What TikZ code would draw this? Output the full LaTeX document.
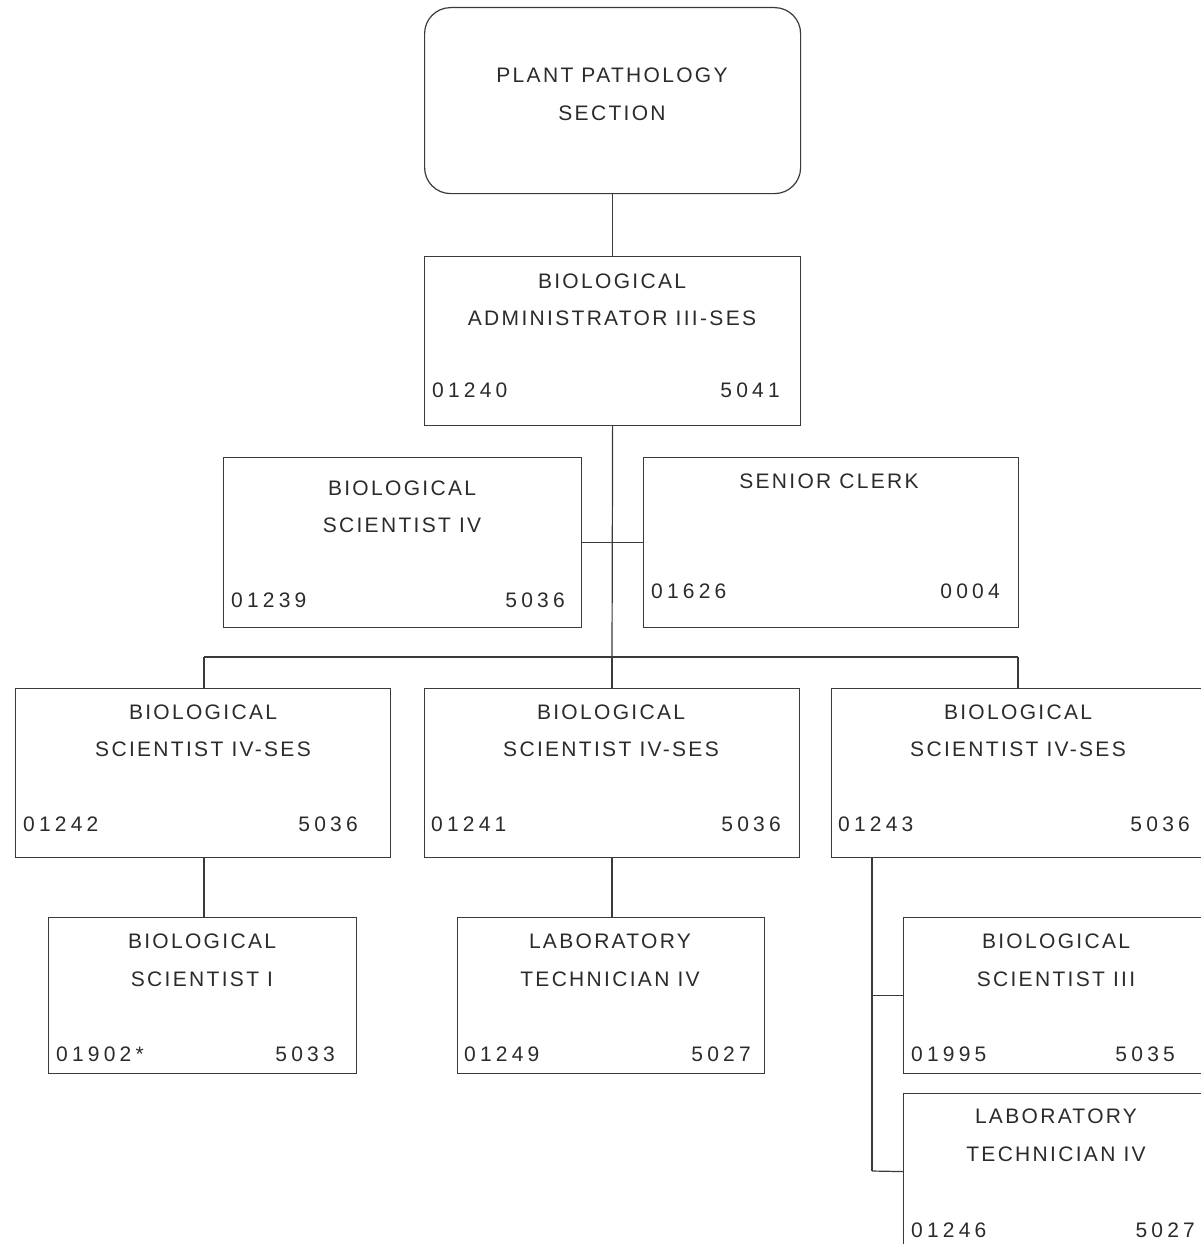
\documentclass[tikz,border=0pt]{standalone}
\usepackage{fontspec}
\setmainfont{Liberation Sans}[LetterSpace=11]
\newfontfamily\posnumfont{Liberation Sans}[LetterSpace=20]
\usetikzlibrary{calc}
\definecolor{ink}{HTML}{2B2B2B}
\definecolor{rule}{HTML}{3A3A3A}
\begin{document}
\begin{tikzpicture}[x=1pt,y=-1pt,
  posbox/.style={draw=rule, line width=1.2pt, rectangle, inner sep=0pt, anchor=north west},
  ttl/.style={inner sep=0pt, anchor=base, text=ink, font=\fontsize{21}{25}\selectfont},
  numl/.style={inner sep=0pt, anchor=base west, text=ink, font=\posnumfont\fontsize{21}{25}\selectfont},
  numr/.style={inner sep=0pt, anchor=base east, text=ink, font=\posnumfont\fontsize{21}{25}\selectfont},
  link/.style={draw=rule, line width=1.2pt}]
\useasboundingbox (0,0) rectangle (1201,1244);

% ---- boxes ----
\node[posbox, rounded corners=26pt, minimum width=376pt, minimum height=186pt] (top) at (424,7) {};
\node[posbox, minimum width=376pt, minimum height=169pt] (admin) at (424,256) {};
\node[posbox, minimum width=358pt, minimum height=170pt] (sci4) at (223,457) {};
\node[posbox, minimum width=375pt, minimum height=170pt] (clerk) at (643,457) {};
\node[posbox, minimum width=375pt, minimum height=169pt] (rowL) at (15,688) {};
\node[posbox, minimum width=375pt, minimum height=169pt] (rowM) at (424,688) {};
\node[posbox, minimum width=374pt, minimum height=169pt] (rowR) at (831,688) {};
\node[posbox, minimum width=308pt, minimum height=156pt] (botL) at (48,917) {};
\node[posbox, minimum width=307pt, minimum height=156pt] (botM) at (457,917) {};
\node[posbox, minimum width=306pt, minimum height=156pt] (botR1) at (903,917) {};
\node[posbox, minimum width=306pt, minimum height=156pt] (botR2) at (903,1093) {};

% ---- texts ----
\node[ttl] (topA) at (612,83) {PLANT PATHOLOGY};
\node[ttl] (topB) at (612,121) {SECTION};

\node[ttl] (adminA) at (612,288) {BIOLOGICAL};
\node[ttl] (adminB) at (612,325) {ADMINISTRATOR III-SES};
\node[numl] (adminN) at (432,397) {01240};
\node[numr] (adminC) at (780,397) {5041};

\node[ttl] (sci4A) at (402,495) {BIOLOGICAL};
\node[ttl] (sci4B) at (402,532) {SCIENTIST IV};
\node[numl] (sci4N) at (231,607) {01239};
\node[numr] (sci4C) at (565,607) {5036};

\node[ttl] (clerkA) at (829,488) {SENIOR CLERK};
\node[numl] (clerkN) at (651,598) {01626};
\node[numr] (clerkC) at (1000,598) {0004};

\node[ttl] (rowLA) at (203,719) {BIOLOGICAL};
\node[ttl] (rowLB) at (203,756) {SCIENTIST IV-SES};
\node[numl] (rowLN) at (23,831) {01242};
\node[numr] (rowLC) at (358,831) {5036};

\node[ttl] (rowMA) at (611,719) {BIOLOGICAL};
\node[ttl] (rowMB) at (611,756) {SCIENTIST IV-SES};
\node[numl] (rowMN) at (431,831) {01241};
\node[numr] (rowMC) at (781,831) {5036};

\node[ttl] (rowRA) at (1018,719) {BIOLOGICAL};
\node[ttl] (rowRB) at (1018,756) {SCIENTIST IV-SES};
\node[numl] (rowRN) at (838,831) {01243};
\node[numr] (rowRC) at (1190,831) {5036};

\node[ttl] (botLA) at (202,948) {BIOLOGICAL};
\node[ttl] (botLB) at (202,986) {SCIENTIST I};
\node[numl] (botLN) at (56,1061) {01902*};
\node[numr] (botLC) at (335,1061) {5033};

\node[ttl] (botMA) at (610,948) {LABORATORY};
\node[ttl] (botMB) at (610,986) {TECHNICIAN IV};
\node[numl] (botMN) at (464,1061) {01249};
\node[numr] (botMC) at (751,1061) {5027};

\node[ttl] (botR1A) at (1056,948) {BIOLOGICAL};
\node[ttl] (botR1B) at (1056,986) {SCIENTIST III};
\node[numl] (botR1N) at (911,1061) {01995};
\node[numr] (botR1C) at (1175,1061) {5035};

\node[ttl] (botR2A) at (1056,1123) {LABORATORY};
\node[ttl] (botR2B) at (1056,1161) {TECHNICIAN IV};
\node[numl] (botR2N) at (911,1237) {01246};
\node[numr] (botR2C) at (1195,1237) {5027};

% ---- connectors ----
\coordinate (hub) at (612,657);
\coordinate (barL) at (204,657);
\coordinate (barR) at (1018,657);
\coordinate (spineTop) at (872,857);
\coordinate (spineBot) at (872,1171);

\draw[link] (top.south) -- (admin.north);
\draw[link] (admin.south) -- (hub);
\draw[link] (sci4.east) -- (clerk.west);
\draw[link] (barL) -- (barR);
\draw[link] (barL) -- (barL |- rowL.north);
\draw[link] (hub) -- (hub |- rowM.north);
\draw[link] (barR) -- (barR |- rowR.north);
\draw[link] (barL |- rowL.south) -- (barL |- botL.north);
\draw[link] (hub |- rowM.south) -- (hub |- botM.north);
\draw[link] (spineTop) -- (spineBot);
\draw[link] (spineTop |- botR1.west) -- (botR1.west);
\draw[link] (spineBot) -- (botR2.west);
\end{tikzpicture}
\end{document}
